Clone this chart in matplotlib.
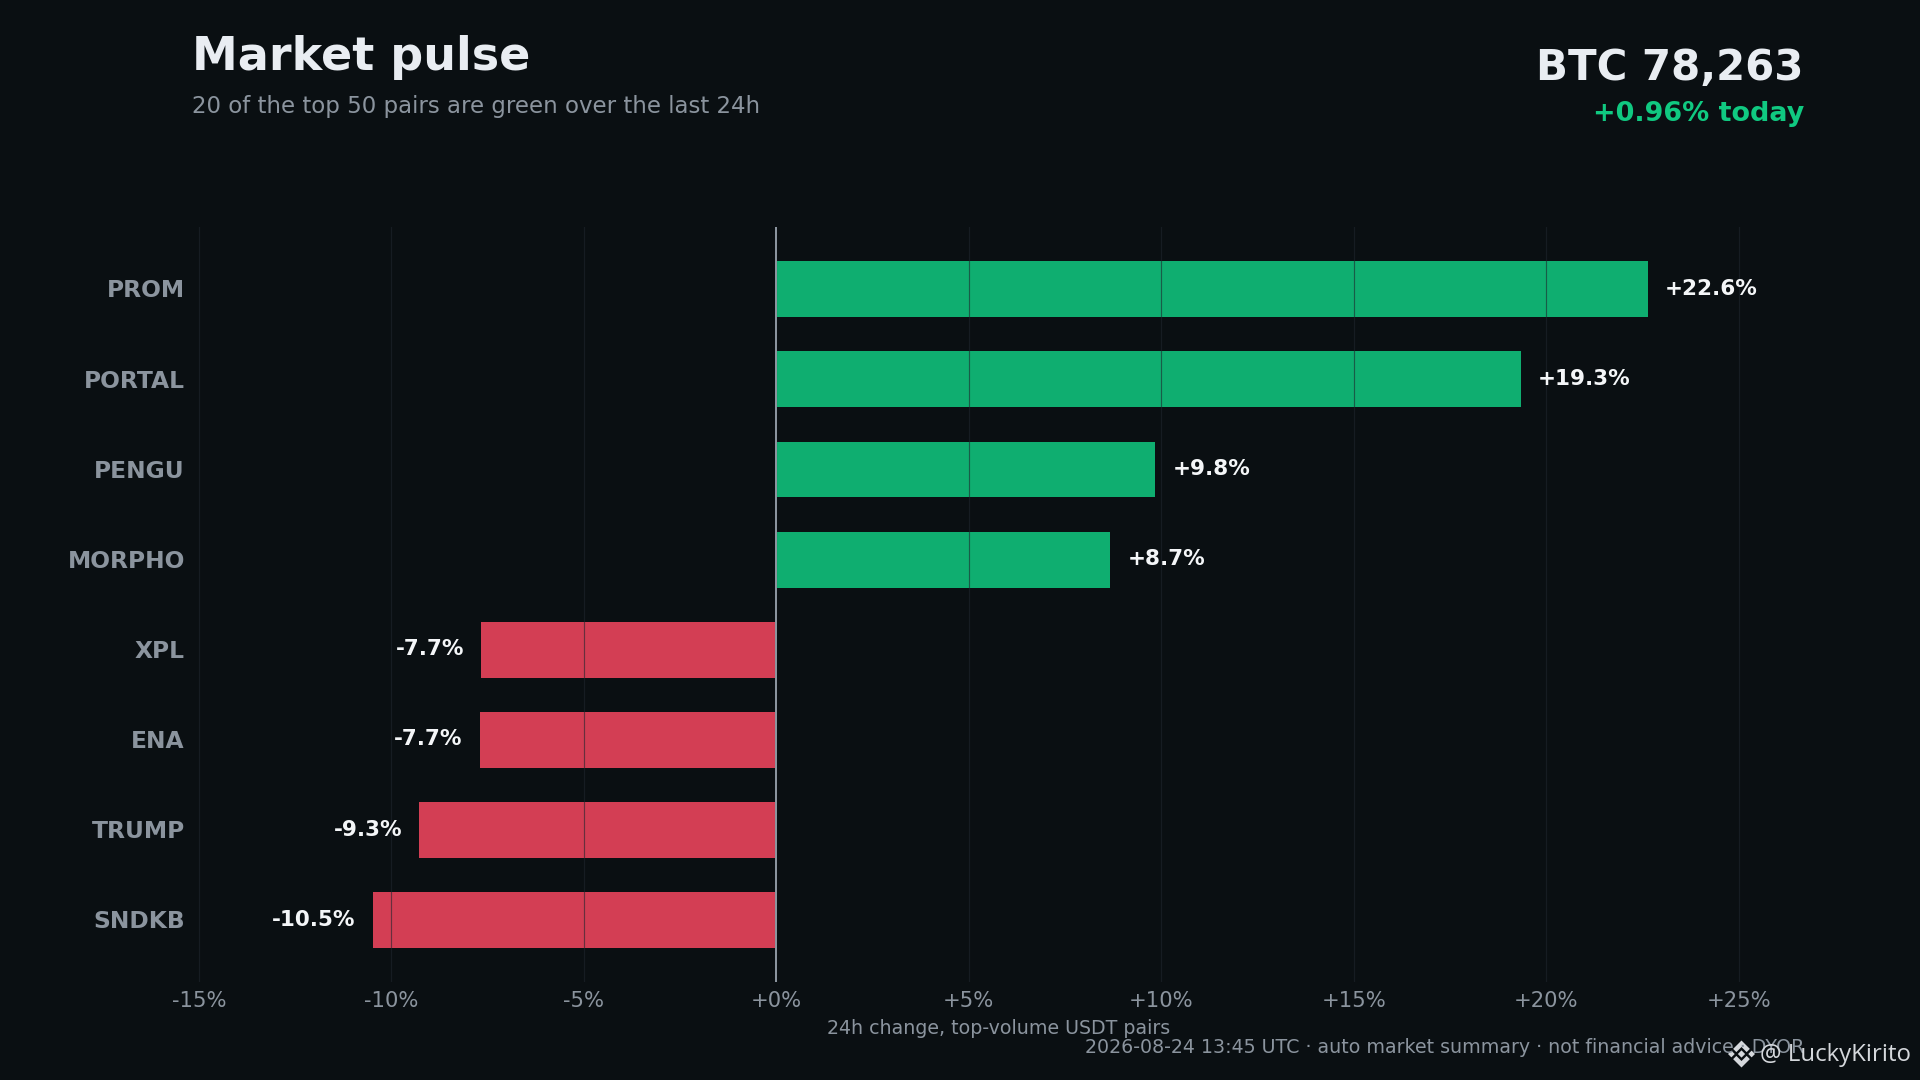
import matplotlib
matplotlib.use("Agg")
import matplotlib.pyplot as plt
from matplotlib.patches import Polygon
from matplotlib.transforms import ScaledTranslation

symbols = ["PROM", "PORTAL", "PENGU", "MORPHO", "XPL", "ENA", "TRUMP", "SNDKB"]
changes = [22.63, 19.33, 9.84, 8.67, -7.66, -7.70, -9.27, -10.48]
xticks = [-15, -10, -5, 0, 5, 10, 15, 20, 25]

BG = "#0a0f12"
GREEN = "#0fae70"
RED = "#d33e54"
MUTED = "#8b949e"
WHITE = "#e9edf2"

plt.rcParams["font.family"] = "DejaVu Sans"
fig = plt.figure(figsize=(16, 9), dpi=120, facecolor=BG)
W, H = 1920, 1080
ax = fig.add_axes([192.3 / W, 1 - 982.4 / H, (1804 - 192.3) / W, (982.4 - 227) / H], facecolor=BG)

ypos = list(range(len(symbols)))
ax.barh(ypos, changes, height=0.62, color=[GREEN if v > 0 else RED for v in changes], zorder=1)
ax.set_xlim((192.3 - 776.3) / 38.5, (1804 - 776.3) / 38.5)
ax.set_ylim(len(symbols) - 1 + 0.691, -0.691)
ax.set_yticks(ypos, symbols)
ax.set_xticks(xticks, [f"{t:+d}%" for t in xticks])
ax.tick_params(axis="x", length=0, colors=MUTED, labelsize=12.7, pad=5)
ax.tick_params(axis="y", length=0, colors=MUTED, labelsize=14, pad=4.4)
for lab in ax.get_yticklabels():
    lab.set_fontweight("bold")
    lab.set_transform(lab.get_transform() + ScaledTranslation(0, 0.8 / 120, fig.dpi_scale_trans))
for s in ax.spines.values():
    s.set_visible(False)
ax.xaxis.grid(True, color="#1f262e", alpha=0.6, lw=0.7, zorder=2)
ax.set_axisbelow(False)
ax.axvline(0, color=MUTED, lw=1.2, zorder=3)

for y, v in zip(ypos, changes):
    ax.annotate(f"{v:+.1f}%", (v, y), xytext=(10.5 if v > 0 else -10.5, 0.3), textcoords="offset points",
                ha="left" if v > 0 else "right", va="center", color="#f4f6f8", fontsize=12.9, fontweight="bold")

ax.set_xlabel("24h change, top-volume USDT pairs", color=MUTED, fontsize=11.4, labelpad=4.7)

fig.text(192 / W, 1 - 58 / H, "Market pulse", color=WHITE, fontsize=27.6, fontweight="bold", ha="left", va="center")
fig.text(192 / W, 1 - 106 / H, "20 of the top 50 pairs are green over the last 24h", color=MUTED, fontsize=13.75, ha="left", va="center")
fig.text(1804 / W, 1 - 68.2 / H, "BTC 78,263", color=WHITE, fontsize=25.1, fontweight="bold", ha="right", va="center")
fig.text(1804 / W, 1 - 114 / H, "+0.96% today", color="#10c981", fontsize=16.2, fontweight="bold", ha="right", va="center")
fig.text(1804 / W, 1 - 1047.3 / H, "2026-08-24 13:45 UTC · auto market summary · not financial advice · DYOR", color=MUTED, fontsize=11.4, ha="right", va="center")
fig.text(1911 / W, 1 - 1055 / H, "@ LuckyKirito", color="#d5d8dc", fontsize=14.4, ha="right", va="center", family="Open Sans")

# Exchange logo beside the watermark: centre diamond, side diamonds, top and bottom chevrons
LOGO_CX, LOGO_CY, LOGO_R = 1741.5, 1054, 13.5
logo_shapes = [
    [(0, 0.27), (0.27, 0), (0, -0.27), (-0.27, 0)],
    [(-0.75, 0.25), (-0.5, 0), (-0.75, -0.25), (-1, 0)],
    [(0.75, 0.25), (1, 0), (0.75, -0.25), (0.5, 0)],
    [(0, 1), (0.62, 0.38), (0.38, 0.14), (0, 0.52), (-0.38, 0.14), (-0.62, 0.38)],
    [(0, -1), (0.62, -0.38), (0.38, -0.14), (0, -0.52), (-0.38, -0.14), (-0.62, -0.38)],
]
for shape in logo_shapes:
    pts = [((LOGO_CX + LOGO_R * a) / W, 1 - (LOGO_CY - LOGO_R * b) / H) for a, b in shape]
    fig.add_artist(Polygon(pts, closed=True, transform=fig.transFigure, facecolor="#d5d8dc", edgecolor="none"))

plt.savefig("out.png", dpi=120, facecolor=BG)
